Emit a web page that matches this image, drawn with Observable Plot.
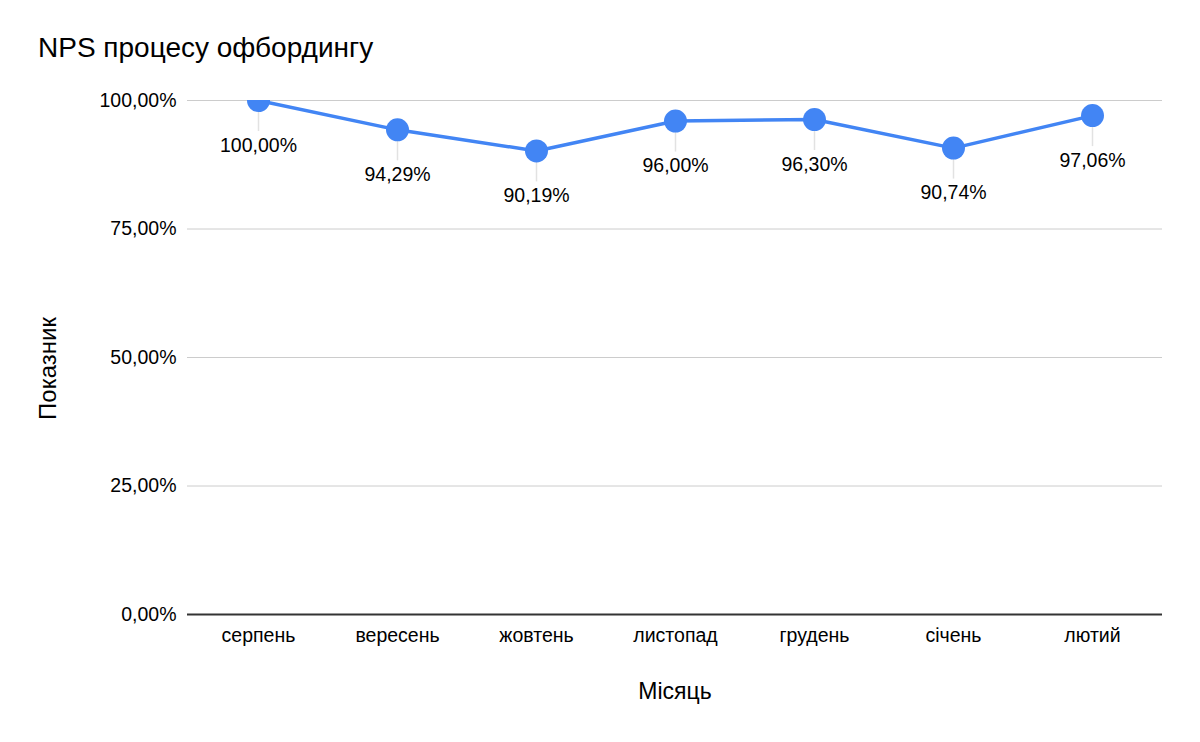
<!DOCTYPE html>
<html><head><meta charset="utf-8">
<script src="https://cdn.jsdelivr.net/npm/d3@7"></script>
<script src="https://cdn.jsdelivr.net/npm/@observablehq/plot@0.6"></script>
<style>
body{margin:0;background:#fff;font-family:"Liberation Sans",Arial,sans-serif;}
#title{height:80px;box-sizing:border-box;padding:34px 0 0 38px;font-size:28px;line-height:28px;color:#000;}
</style></head><body>
<div id="title">NPS процесу офбордингу</div>
<div id="chart"></div>
<script>
const months = ["серпень","вересень","жовтень","листопад","грудень","січень","лютий"];
const nps = [100.00, 94.29, 90.19, 96.00, 96.30, 90.74, 97.06];
const yTicks = [0, 25, 50, 75, 100];
const xTitle = "Місяць";
const yTitle = "Показник";

const data = months.map((m, i) => ({month: m, value: nps[i]}));
const fmt = v => v.toFixed(2).replace(".", ",") + "%";
const blue = "#4285F4";

const chart = Plot.plot({
  width: 1200,
  height: 662,
  marginTop: 20,
  marginBottom: 128,
  marginLeft: 187,
  marginRight: 38,
  style: {fontFamily: '"Liberation Sans", Arial, sans-serif', fontSize: "19.5px", color: "#000", background: "#fff"},
  x: {type: "point", domain: months, padding: 0.5, label: null},
  y: {domain: [0, 100], label: null},
  marks: [
    Plot.gridY(yTicks, {stroke: "#cccccc", strokeOpacity: 1, strokeWidth: 1}),
    Plot.axisY(yTicks, {tickSize: 0, tickPadding: 11, tickFormat: fmt, fontSize: 19.5, label: null}),
    Plot.axisX({tickSize: 0, tickPadding: 14, fontSize: 19.5, label: null}),
    Plot.ruleY([0], {stroke: "#333", strokeWidth: 2}),
    Plot.ruleX(data, {x: "month", y1: "value", y2: "value", insetBottom: -31, stroke: "#e2e2e2", strokeWidth: 1.5}),
    Plot.line(data, {x: "month", y: "value", stroke: blue, strokeWidth: 3.5, clip: true}),
    Plot.dot(data, {x: "month", y: "value", r: 11.5, fill: blue, stroke: null, clip: true}),
    Plot.text(data, {x: "month", y: "value", text: d => fmt(d.value), dy: 45, fontSize: 19.5, fill: "#000"}),
    Plot.text([xTitle], {frameAnchor: "bottom", textAnchor: "middle", lineAnchor: "middle", dy: 77, fontSize: 23, fill: "#000"}),
    Plot.text([yTitle], {frameAnchor: "left", textAnchor: "middle", lineAnchor: "middle", dx: -139, dy: 11, rotate: -90, fontSize: 24, fill: "#000"})
  ]
});
document.getElementById("chart").appendChild(chart);
</script>
</body></html>
